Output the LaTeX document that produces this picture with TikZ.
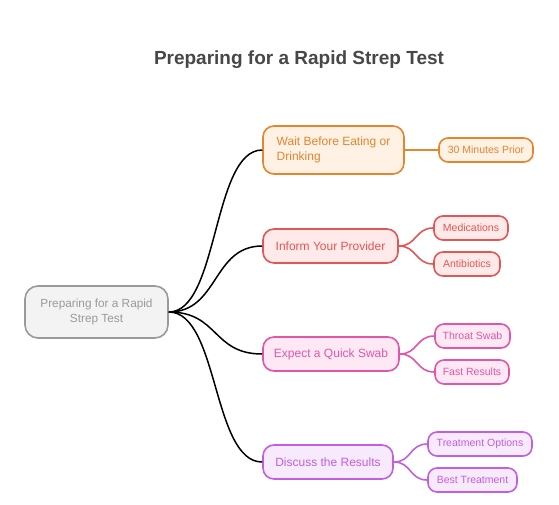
\documentclass[tikz,border=0pt]{standalone}
\usepackage{fontspec}
\setmainfont{Liberation Sans}
\begin{document}
\begin{tikzpicture}[x=1pt,y=-1pt,
  box/.style={rectangle,rounded corners=11pt,line width=1.6pt,inner sep=0pt,align=center,font=\fontsize{12}{15}\selectfont},
  leaf/.style={rectangle,rounded corners=9pt,line width=1.6pt,inner sep=0pt,align=center,minimum height=24pt,font=\fontsize{10.5}{12}\selectfont},
  link/.style={line width=1.5pt,black},
  sub/.style={line width=1.6pt}]
\definecolor{ttl}{HTML}{474747}
\definecolor{rootb}{HTML}{9A9A9A}\definecolor{rootf}{HTML}{F3F3F3}
\definecolor{orb}{HTML}{E3862E}\definecolor{orf}{HTML}{FFF1E3}
\definecolor{reb}{HTML}{E35656}\definecolor{ref}{HTML}{FFE9E9}
\definecolor{pib}{HTML}{E056A8}\definecolor{pif}{HTML}{FDE8F4}
\definecolor{pub}{HTML}{C15FE0}\definecolor{puf}{HTML}{F8EAFD}
\useasboundingbox (0,0) rectangle (559,504);
\node[font=\bfseries\fontsize{19}{22}\selectfont,text=ttl] (title) at (299,60) {Preparing for a Rapid Strep Test};
\node[box,draw=rootb,fill=rootf,text=rootb,minimum width=143pt,minimum height=52pt,rounded corners=13pt,font=\fontsize{11.8}{15}\selectfont] (root) at (96.5,312) {Preparing for a Rapid\\Strep Test};
\node[box,draw=orb,fill=orf,text=orb,minimum width=141pt,minimum height=48pt,align=left] (wait) at (333.5,150) {Wait Before Eating or\\Drinking};
\node[box,draw=reb,fill=ref,text=reb,minimum width=135pt,minimum height=34pt] (inform) at (330.5,246) {Inform Your Provider};
\node[box,draw=pib,fill=pif,text=pib,minimum width=136pt,minimum height=34pt] (expect) at (331,354) {Expect a Quick Swab};
\node[box,draw=pub,fill=puf,text=pub,minimum width=130pt,minimum height=34pt] (discuss) at (328,462) {Discuss the Results};
\node[leaf,draw=orb,fill=orf,text=orb,minimum width=94pt] (min) at (486,150) {30 Minutes Prior};
\node[leaf,draw=reb,fill=ref,text=reb,minimum width=74pt] (med) at (471,228) {Medications};
\node[leaf,draw=reb,fill=ref,text=reb,minimum width=66pt] (anti) at (467,264) {Antibiotics};
\node[leaf,draw=pib,fill=pif,text=pib,minimum width=75pt] (throat) at (472.5,336) {Throat Swab};
\node[leaf,draw=pib,fill=pif,text=pib,minimum width=74pt] (fast) at (472,372) {Fast Results};
\node[leaf,draw=pub,fill=puf,text=pub,minimum width=104pt] (topt) at (480,444) {Treatment Options};
\node[leaf,draw=pub,fill=puf,text=pub,minimum width=89pt] (best) at (472.5,480) {Best Treatment};
\foreach \n in {wait,inform,expect,discuss}{
  \draw[link] (root.east) .. controls ([xshift=50pt]root.east) and ([xshift=-50pt]\n.west) .. (\n.west);
}
\draw[sub,orb] (wait.east) -- (min.west);
\draw[sub,reb] (inform.east) .. controls ([xshift=18pt]inform.east) and ([xshift=-18pt]med.west) .. (med.west);
\draw[sub,reb] (inform.east) .. controls ([xshift=18pt]inform.east) and ([xshift=-18pt]anti.west) .. (anti.west);
\draw[sub,pib] (expect.east) .. controls ([xshift=18pt]expect.east) and ([xshift=-18pt]throat.west) .. (throat.west);
\draw[sub,pib] (expect.east) .. controls ([xshift=18pt]expect.east) and ([xshift=-18pt]fast.west) .. (fast.west);
\draw[sub,pub] (discuss.east) .. controls ([xshift=18pt]discuss.east) and ([xshift=-18pt]topt.west) .. (topt.west);
\draw[sub,pub] (discuss.east) .. controls ([xshift=18pt]discuss.east) and ([xshift=-18pt]best.west) .. (best.west);
\end{tikzpicture}
\end{document}
